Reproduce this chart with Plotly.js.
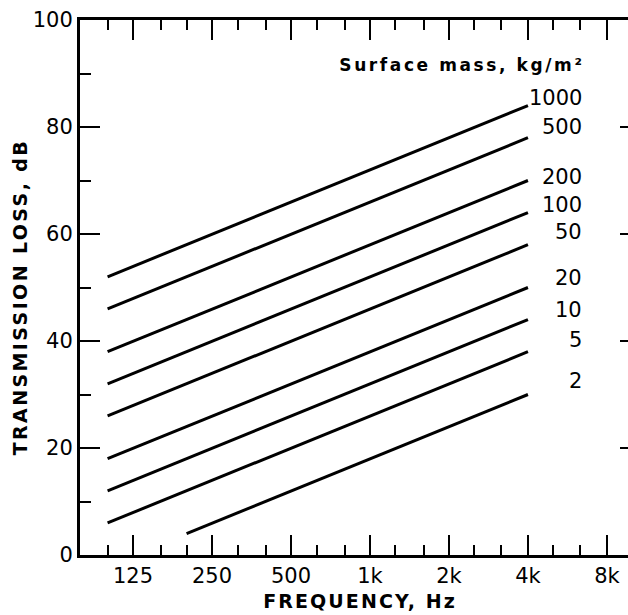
<!DOCTYPE html>
<html>
<head>
<meta charset="utf-8">
<script src="https://cdn.plot.ly/plotly-3.0.1.min.js"></script>
<style>
html,body{margin:0;padding:0;overflow:hidden;background:#fff;}
#chart{width:644px;height:615px;}
.g-xtitle text{letter-spacing:2.1px;}
.annotation.heavy text{letter-spacing:2.6px;}
.annotation.ytitle text{letter-spacing:2.4px;}
</style>
</head>
<body>
<div id="chart"></div>
<script>
// Surface mass (kg/m²) of each mass-law line
var masses = ['1000', '500', '200', '100', '50', '20', '10', '5', '2'];
// Frequency (Hz) at the start and end of each line
var startFreq = [100, 100, 100, 100, 100, 100, 100, 100, 200];
var endFreq = [4000, 4000, 4000, 4000, 4000, 4000, 4000, 4000, 4000];
// Transmission loss (dB) at the start and end of each line
var startTL = [52, 46, 38, 32, 26, 18, 12, 6, 4];
var endTL = [84, 78, 70, 64, 58, 50, 44, 38, 30];
// Axis ticks
var freqTickVals = [125, 250, 500, 1000, 2000, 4000, 8000];
var freqTickText = ['125', '250', '500', '1k', '2k', '4k', '8k'];
var freqMinorVals = [100, 160, 200, 315, 400, 630, 800, 1250, 1600, 2500, 3150, 5000, 6300];
var tlTickVals = [0, 20, 40, 60, 80, 100];
var tlMinorVals = [10, 30, 50, 70, 90];

var traces = masses.map(function (m, i) {
  return {
    type: 'scatter', mode: 'lines',
    x: [startFreq[i], endFreq[i]],
    y: [startTL[i], endTL[i]],
    line: {color: '#000', width: 3},
    name: m, showlegend: false, hoverinfo: 'skip'
  };
});

var labelNudge = [1.4, 2.0, 0.6, 1.4, 2.3, 1.8, 1.8, 2.2, 2.5];
var annotations = masses.map(function (m, i) {
  return {
    text: m, x: 1, xref: 'paper', xshift: -56, xanchor: 'right',
    y: endTL[i] + labelNudge[i], yref: 'y', yanchor: 'middle',
    showarrow: false,
    font: {family: 'DejaVu Sans', size: 21, color: '#000'}
  };
});
annotations.push({
  text: 'Surface mass, kg/m²', x: 1, xref: 'paper', xshift: -78, xanchor: 'right',
  y: 1, yref: 'paper', yshift: -45, yanchor: 'middle', showarrow: false,
  font: {family: 'DejaVu Sans', size: 17, weight: 900, color: '#000'}
});
annotations.push({
  text: 'TRANSMISSION LOSS, dB', textangle: -90,
  x: 0, xref: 'paper', xshift: -60, xanchor: 'center',
  y: 48.2, yref: 'y', yanchor: 'middle', showarrow: false,
  font: {family: 'DejaVu Sans', size: 19, weight: 900, color: '#000'}
});

var axisCommon = {
  showgrid: false, zeroline: false, showline: true, linecolor: '#000', linewidth: 3,
  mirror: 'allticks', ticks: 'inside', tickcolor: '#000', tickwidth: 2.5, ticklen: 20,
  tickfont: {family: 'DejaVu Sans', size: 21, color: '#000'}
};

var layout = {
  width: 644, height: 615,
  margin: {l: 80, r: 4, t: 20, b: 60},
  paper_bgcolor: '#fff', plot_bgcolor: '#fff',
  xaxis: Object.assign({}, axisCommon, {
    type: 'log', range: [Math.log10(78.5), Math.log10(10690)],
    tickmode: 'array', tickvals: freqTickVals, ticktext: freqTickText,
    minor: {tickvals: freqMinorVals, ticks: 'inside', ticklen: 10, tickwidth: 2, tickcolor: '#000'},
    title: {text: 'FREQUENCY, Hz', standoff: 8,
      font: {family: 'DejaVu Sans', size: 19, weight: 900, color: '#000'}}
  }),
  yaxis: Object.assign({}, axisCommon, {
    range: [0, 100], tickmode: 'array', tickvals: tlTickVals,
    minor: {tickvals: tlMinorVals, ticks: 'inside', ticklen: 11, tickwidth: 2, tickcolor: '#000'}
  }),
  annotations: annotations
};

Plotly.newPlot('chart', traces, layout, {staticPlot: true, displayModeBar: false}).then(function () {
  var anns = document.querySelectorAll('.annotation');
  if (anns.length >= 2) {
    anns[anns.length - 2].classList.add('heavy');
    anns[anns.length - 1].classList.add('ytitle');
  }
});
</script>
</body>
</html>
